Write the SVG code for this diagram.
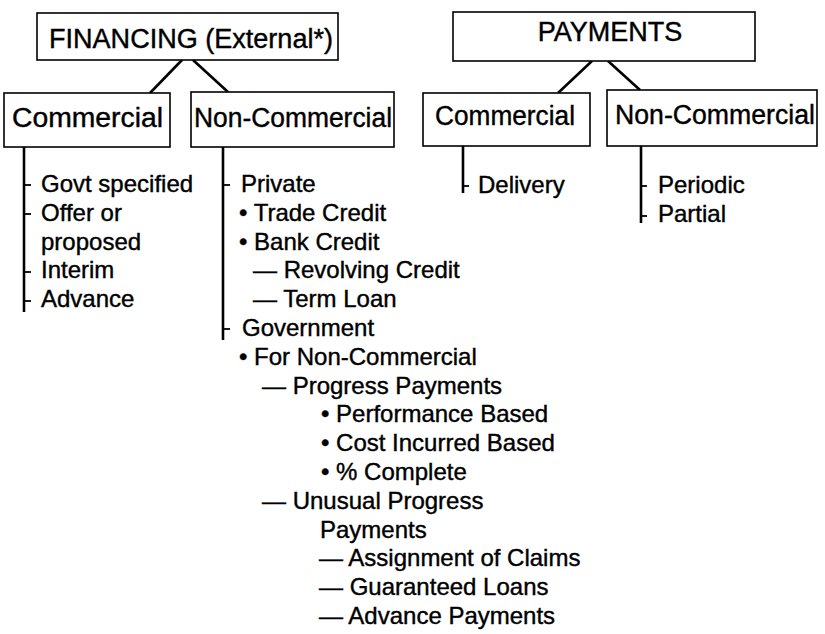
<svg xmlns="http://www.w3.org/2000/svg" width="825" height="634" viewBox="0 0 825 634">
<style>
.box{fill:#fff;stroke:#000;stroke-width:1.6}
.hd{font-family:"Liberation Sans",Arial,sans-serif;font-size:27px;fill:#000;stroke:#000;stroke-width:0.4}
.it{font-family:"Liberation Sans",Arial,sans-serif;font-size:24px;fill:#000;stroke:#000;stroke-width:0.4}
.ln{stroke:#000;stroke-width:2.6;fill:none}
.tk{stroke:#000;stroke-width:1.8;fill:none}
</style>
<rect width="825" height="634" fill="#fff"/>
<g id="connectors">
<line class="ln" x1="182" y1="60" x2="150" y2="93"/>
<line class="ln" x1="193" y1="60" x2="228" y2="92"/>
<line class="ln" x1="592" y1="61" x2="558" y2="93"/>
<line class="ln" x1="608" y1="61" x2="640" y2="90"/>
<line class="ln" x1="24" y1="147" x2="24" y2="312"/>
<line class="tk" x1="24" y1="185" x2="31" y2="185"/>
<line class="tk" x1="24" y1="214" x2="31" y2="214"/>
<line class="tk" x1="24" y1="272" x2="31" y2="272"/>
<line class="tk" x1="24" y1="301" x2="31" y2="301"/>
<line class="ln" x1="223" y1="147" x2="223" y2="340"/>
<line class="tk" x1="223" y1="185" x2="230" y2="185"/>
<line class="tk" x1="223" y1="329" x2="230" y2="329"/>
<line class="ln" x1="463" y1="146" x2="463" y2="193"/>
<line class="tk" x1="463" y1="186" x2="469" y2="186"/>
<line class="ln" x1="641" y1="146" x2="641" y2="223"/>
<line class="tk" x1="641" y1="186" x2="647" y2="186"/>
<line class="tk" x1="641" y1="216" x2="647" y2="216"/>
</g>
<g id="financing">
<rect class="box" x="37" y="13" width="301" height="47"/>
<text class="hd" x="49" y="48" textLength="284" lengthAdjust="spacingAndGlyphs">FINANCING (External*)</text>
</g>
<g id="fin-commercial">
<rect class="box" x="4" y="93" width="166" height="54"/>
<text class="hd" x="12" y="127" textLength="151" lengthAdjust="spacingAndGlyphs">Commercial</text>
</g>
<g id="fin-noncommercial">
<rect class="box" x="191" y="92" width="203" height="55"/>
<text class="hd" x="194" y="127" textLength="198" lengthAdjust="spacingAndGlyphs">Non-Commercial</text>
</g>
<g id="payments">
<rect class="box" x="453" y="12" width="302" height="49"/>
<text class="hd" x="610" y="41" text-anchor="middle">PAYMENTS</text>
</g>
<g id="pay-commercial">
<rect class="box" x="423" y="93" width="167" height="53"/>
<text class="hd" x="435" y="125" textLength="140" lengthAdjust="spacingAndGlyphs">Commercial</text>
</g>
<g id="pay-noncommercial">
<rect class="box" x="607" y="90" width="210" height="56"/>
<text class="hd" x="615" y="124" textLength="200" lengthAdjust="spacingAndGlyphs">Non-Commercial</text>
</g>
<g id="fin-commercial-items">
<text class="it" x="41" y="192">Govt specified</text>
<text class="it" x="41" y="220.8">Offer or</text>
<text class="it" x="41" y="249.6">proposed</text>
<text class="it" x="41" y="278.4">Interim</text>
<text class="it" x="41" y="307.2">Advance</text>
</g>
<g id="fin-noncommercial-items">
<text class="it" x="241" y="192">Private</text>
<text class="it" x="239" y="220.8">• Trade Credit</text>
<text class="it" x="239" y="249.6">• Bank Credit</text>
<text class="it" x="253" y="278.4">— Revolving Credit</text>
<text class="it" x="253" y="307.2">— Term Loan</text>
<text class="it" x="242" y="336">Government</text>
<text class="it" x="239" y="364.8">• For Non-Commercial</text>
<text class="it" x="262" y="393.6">— Progress Payments</text>
<text class="it" x="321" y="422.4">• Performance Based</text>
<text class="it" x="321" y="451.2">• Cost Incurred Based</text>
<text class="it" x="321" y="480">• % Complete</text>
<text class="it" x="262" y="508.8">— Unusual Progress</text>
<text class="it" x="320" y="537.6">Payments</text>
<text class="it" x="319" y="566.4">— Assignment of Claims</text>
<text class="it" x="319" y="595.2">— Guaranteed Loans</text>
<text class="it" x="319" y="624">— Advance Payments</text>
</g>
<g id="pay-commercial-items">
<text class="it" x="478" y="193">Delivery</text>
</g>
<g id="pay-noncommercial-items">
<text class="it" x="658" y="193">Periodic</text>
<text class="it" x="658" y="222">Partial</text>
</g>
</svg>
